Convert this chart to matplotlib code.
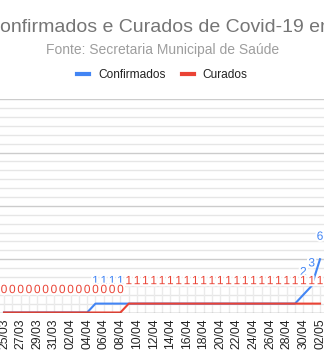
import matplotlib
matplotlib.use("Agg")
import matplotlib.pyplot as plt
import matplotlib.patheffects as pe
from matplotlib.lines import Line2D
import numpy as np

plt.rcParams['font.family'] = ['Liberation Sans', 'DejaVu Sans']

# dias (25/03 a 02/05)
dias = ['25/03', '26/03', '27/03', '28/03', '29/03', '30/03', '31/03',
        '01/04', '02/04', '03/04', '04/04', '05/04', '06/04', '07/04',
        '08/04', '09/04', '10/04', '11/04', '12/04', '13/04', '14/04',
        '15/04', '16/04', '17/04', '18/04', '19/04', '20/04', '21/04',
        '22/04', '23/04', '24/04', '25/04', '26/04', '27/04', '28/04',
        '29/04', '30/04', '01/05', '02/05']

confirmados = [0, 0, 0, 0, 0, 0, 0, 0, 0, 0, 0,
               1, 1, 1, 1, 1, 1, 1, 1, 1, 1, 1, 1, 1, 1, 1, 1, 1, 1, 1, 1, 1, 1, 1, 1, 1,
               2, 3, 6]
curados = [0, 0, 0, 0, 0, 0, 0, 0, 0, 0, 0, 0, 0, 0, 0,
           1, 1, 1, 1, 1, 1, 1, 1, 1, 1, 1, 1, 1, 1, 1, 1, 1, 1, 1, 1, 1, 1, 1, 1]

azul = '#4285f4'
vermelho = '#ea4335'

W, H = 324, 364
fig = plt.figure(figsize=(W / 100, H / 100), dpi=100)
ax = fig.add_axes([0, (H - 312.5) / H, 1, (312.5 - 99.3) / H])

x = np.arange(len(dias))
px_dia = 316 / 38
ax.set_xlim(-4 / px_dia, 38 + 4 / px_dia)
ax.set_ylim(0, 24)

# grade
for v in range(1, 25):
    major = v % 6 == 0
    ax.axhline(v, color='#cccccc' if major else '#e6e6e6', lw=1.0, zorder=0)
ax.vlines(x, 0, 3, color='#ebebeb', lw=1.0, zorder=0)

ax.plot(x, confirmados, color=azul, lw=1.5, zorder=3, solid_joinstyle='round')
ax.plot(x, curados, color=vermelho, lw=1.5, zorder=4, solid_joinstyle='round')
ax.axhline(0, color='#333333', lw=1.0, alpha=0.55, zorder=5)

# rótulos dos pontos
halo = [pe.withStroke(linewidth=3, foreground='white')]
for serie, cor, z in [(confirmados, azul, 6), (curados, vermelho, 7)]:
    for xi, v in zip(x, serie):
        ax.annotate(str(v), (xi, v), xytext=(0, 14), textcoords='offset points',
                    ha='center', va='baseline', fontsize=8.6, color=cor,
                    path_effects=halo, zorder=z, annotation_clip=False)

for s in ax.spines.values():
    s.set_visible(False)
ax.set_yticks([])
ax.set_xticks(x[::2])
ax.set_xticklabels(dias[::2], rotation=90, fontsize=8.7, color='#222222')
ax.tick_params(axis='x', length=0, pad=4)

fig.text(-14 / W, 1 - 31.7 / H, 'Confirmados e Curados de Covid-19 em',
         ha='left', va='baseline', fontsize=14, color='#757575')
fig.text(163 / W, 1 - 54.3 / H, 'Fonte: Secretaria Municipal de Saúde',
         ha='center', va='baseline', fontsize=10, color='#9e9e9e')

handles = [Line2D([], [], color=azul, lw=3), Line2D([], [], color=vermelho, lw=3)]
fig.legend(handles, ['Confirmados', 'Curados'], loc='center',
           bbox_to_anchor=(162.5 / W, 1 - 75 / H), ncol=2, frameon=False,
           fontsize=8.6, handlelength=1.0, handletextpad=0.75,
           columnspacing=1.35, labelcolor='#222222')

fig.savefig('out.png', dpi=100)
